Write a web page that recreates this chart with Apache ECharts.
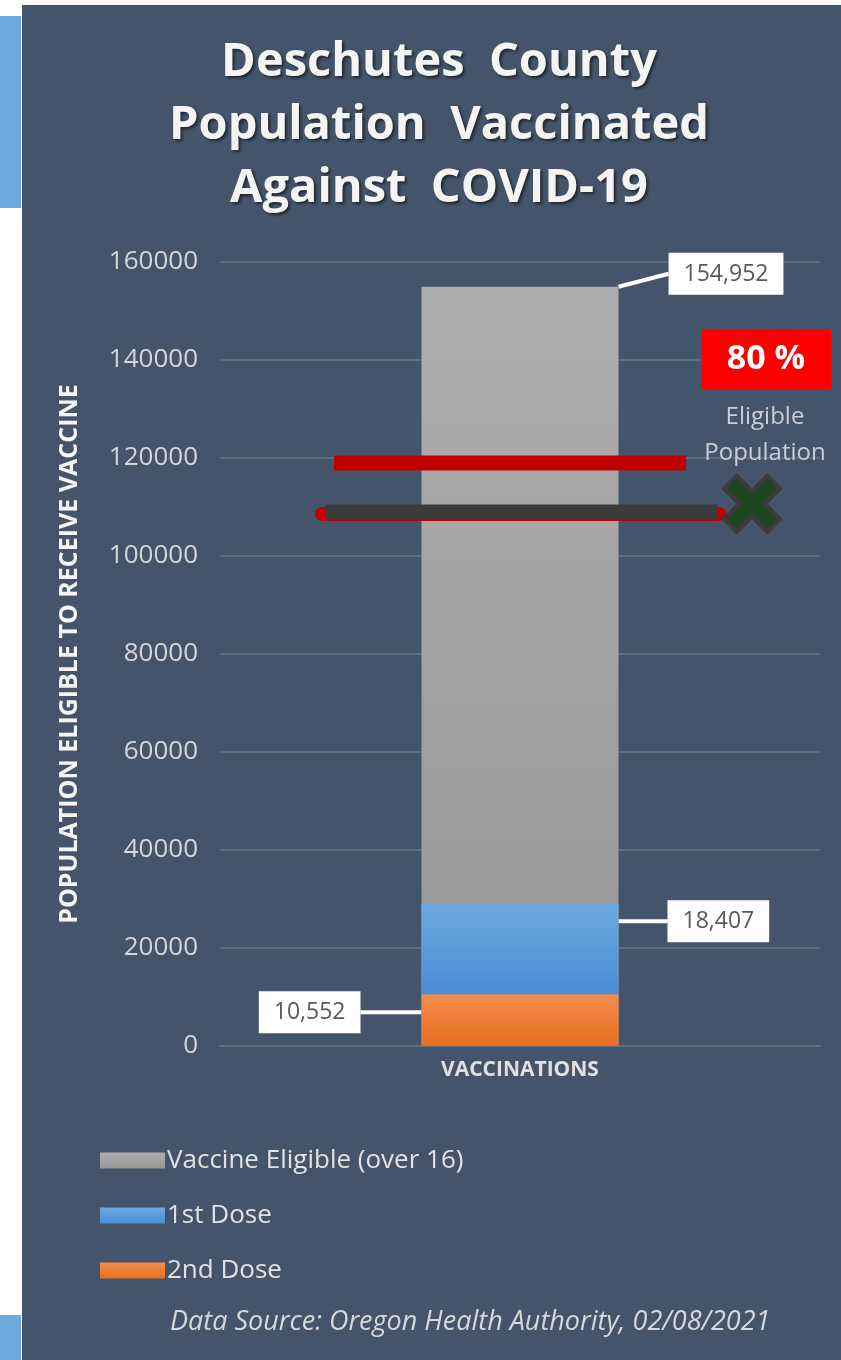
<!DOCTYPE html>
<html>
<head>
<meta charset="utf-8">
<script src="https://cdn.jsdelivr.net/npm/echarts@6/dist/echarts.min.js"></script>
<style>
  html, body { margin: 0; padding: 0; background: #ffffff; }
  #main { width: 841px; height: 1360px; }
</style>
</head>
<body>
<div id="main"></div>
<script>
// 数据
var categories = ['VACCINATIONS'];
var eligible = [154952];      // Vaccine Eligible (over 16)
var firstDose = [18407];      // 1st Dose
var secondDose = [10552];     // 2nd Dose
var seriesNames = ['Vaccine Eligible (over 16)', '1st Dose', '2nd Dose'];
var yMin = 0, yMax = 160000, yStep = 20000;
// 参考线: 红线 / 深灰线 (数值)
var refLevels = [119000, 109000];

var panelBg = '#44546a';
var font = '"Open Sans", "DejaVu Sans", sans-serif';

function fmt(v) {
    return Number(v).toLocaleString('en-US');
}

var calloutLabel = {
    show: true,
    formatter: function (p) { return fmt(p.value); },
    backgroundColor: '#ffffff',
    color: '#595959',
    fontFamily: font,
    fontSize: 23,
    padding: [10, 15, 9, 15]
};
var calloutLine = {
    show: true,
    lineStyle: { color: '#ffffff', width: 4 }
};

var myChart = echarts.init(document.getElementById('main'));

var option = {
    backgroundColor: '#ffffff',
    animation: false,
    title: {
        text: 'Deschutes  County\nPopulation  Vaccinated\nAgainst  COVID-19',
        left: 434,
        top: 26,
        textAlign: 'center',
        textStyle: {
            color: '#f4f4f4',
            fontFamily: font,
            fontWeight: 'bold',
            fontSize: 47,
            lineHeight: 63,
            textShadowColor: 'rgba(0,0,0,0.55)',
            textShadowBlur: 3,
            textShadowOffsetX: 2,
            textShadowOffsetY: 2
        }
    },
    legend: {
        orient: 'vertical',
        left: 95,
        top: 1142,
        itemWidth: 65,
        itemHeight: 16,
        itemGap: 28,
        icon: 'rect',
        data: seriesNames,
        textStyle: {
            color: '#e2e2e2',
            fontFamily: font,
            fontSize: 26,
            lineHeight: 27,
            padding: [0, 0, 0, -3]
        }
    },
    grid: {
        left: 220,
        right: 21,
        top: 262,
        bottom: 314
    },
    xAxis: {
        type: 'category',
        data: categories,
        axisTick: { show: false },
        axisLine: { lineStyle: { color: '#5c6b7d', width: 2 } },
        axisLabel: {
            color: '#e0e0e0',
            fontFamily: font,
            fontWeight: 'bold',
            fontSize: 21,
            margin: 14
        }
    },
    yAxis: {
        type: 'value',
        min: yMin,
        max: yMax,
        interval: yStep,
        name: 'POPULATION ELIGIBLE TO RECEIVE VACCINE',
        nameLocation: 'middle',
        nameRotate: 90,
        nameGap: 138,
        nameTextStyle: {
            color: '#f4f4f4',
            fontFamily: font,
            fontWeight: 'bold',
            fontSize: 25
        },
        axisLine: { show: false },
        axisTick: { show: false },
        axisLabel: {
            color: '#d4d6d9',
            fontFamily: font,
            fontSize: 26,
            margin: 22,
            formatter: function (v) { return String(v); }
        },
        splitLine: { lineStyle: { color: '#5c6b7d', width: 2 } }
    },
    series: [{
        name: seriesNames[0],
        type: 'bar',
        data: eligible,
        barWidth: 197,
        barGap: '-100%',
        z: 2,
        itemStyle: {
            color: new echarts.graphic.LinearGradient(0, 0, 0, 1, [
                { offset: 0, color: '#adadad' },
                { offset: 1, color: '#979797' }
            ])
        },
        label: Object.assign({}, calloutLabel, { position: 'top', distance: 5 }),
        labelLayout: { dx: 206, dy: 13 },
        labelLine: calloutLine
    }, {
        name: seriesNames[2],
        type: 'bar',
        stack: 'dose',
        data: secondDose,
        barWidth: 197,
        z: 3,
        itemStyle: {
            color: new echarts.graphic.LinearGradient(0, 0, 0, 1, [
                { offset: 0, color: '#f28e4e' },
                { offset: 1, color: '#e96d1f' }
            ])
        },
        label: Object.assign({}, calloutLabel, { position: 'left', distance: 5 }),
        labelLayout: { dx: -56, dy: -8 },
        labelLine: calloutLine
    }, {
        name: seriesNames[1],
        type: 'bar',
        stack: 'dose',
        data: firstDose,
        barWidth: 197,
        z: 3,
        itemStyle: {
            color: new echarts.graphic.LinearGradient(0, 0, 0, 1, [
                { offset: 0, color: '#6ea8e0' },
                { offset: 1, color: '#4a8dd5' }
            ])
        },
        label: Object.assign({}, calloutLabel, { position: 'right', distance: 5 }),
        labelLayout: { dx: 44, dy: -28 },
        labelLine: calloutLine
    }]
};

myChart.setOption(option);

// 参考线位置通过 y 轴换算
var redY = myChart.convertToPixel({ yAxisIndex: 0 }, refLevels[0]);
var darkY = myChart.convertToPixel({ yAxisIndex: 0 }, refLevels[1]);
var xCx = 752, xCy = darkY - 8, xR = 23;

myChart.setOption({
    graphic: [
        // 背景面板
        { type: 'rect', z: -100, shape: { x: 22, y: 5, width: 819, height: 1355 }, style: { fill: panelBg } },
        { type: 'rect', z: -100, shape: { x: 0, y: 16, width: 21, height: 192 }, style: { fill: '#6fa8dc' } },
        { type: 'rect', z: -100, shape: { x: 0, y: 1315, width: 21, height: 45 }, style: { fill: '#6fa8dc' } },
        // 红线
        { type: 'line', z: 100, shape: { x1: 334, y1: redY, x2: 686, y2: redY }, style: { stroke: '#c00000', lineWidth: 15 } },
        // 深灰线 (带红边)
        { type: 'line', z: 100, shape: { x1: 322, y1: darkY + 2, x2: 719, y2: darkY + 2 }, style: { stroke: '#c00000', lineWidth: 14, lineCap: 'round' } },
        { type: 'line', z: 101, shape: { x1: 325, y1: darkY, x2: 718, y2: darkY }, style: { stroke: '#3b3b3b', lineWidth: 15 } },
        // X 标记
        { type: 'line', z: 102, shape: { x1: xCx - xR, y1: xCy - xR, x2: xCx + xR, y2: xCy + xR }, style: { stroke: '#3b3b3b', lineWidth: 22 } },
        { type: 'line', z: 102, shape: { x1: xCx + xR, y1: xCy - xR, x2: xCx - xR, y2: xCy + xR }, style: { stroke: '#3b3b3b', lineWidth: 22 } },
        { type: 'line', z: 103, shape: { x1: xCx - xR + 3, y1: xCy - xR + 3, x2: xCx + xR - 3, y2: xCy + xR - 3 }, style: { stroke: '#1e4620', lineWidth: 13 } },
        { type: 'line', z: 103, shape: { x1: xCx + xR - 3, y1: xCy - xR + 3, x2: xCx - xR + 3, y2: xCy + xR - 3 }, style: { stroke: '#1e4620', lineWidth: 13 } },
        // 80 % 红框
        { type: 'rect', z: 100, shape: { x: 701, y: 329, width: 130, height: 60 }, style: { fill: '#ff0000' } },
        {
            type: 'text', z: 101, x: 766, y: 359,
            style: { text: '80 %', fill: '#ffffff', font: 'bold 34px ' + font, textAlign: 'center', textVerticalAlign: 'middle' }
        },
        {
            type: 'text', z: 100, x: 765, y: 435,
            style: { text: 'Eligible\nPopulation', fill: '#c9ced6', font: '24px ' + font, lineHeight: 36, textAlign: 'center', textVerticalAlign: 'middle' }
        },
        // 数据来源
        {
            type: 'text', z: 100, x: 170, y: 1322,
            style: { text: 'Data Source: Oregon Health Authority, 02/08/2021', fill: '#d6d8db', font: 'italic 27px ' + font, textVerticalAlign: 'middle' }
        }
    ]
});
</script>
</body>
</html>
